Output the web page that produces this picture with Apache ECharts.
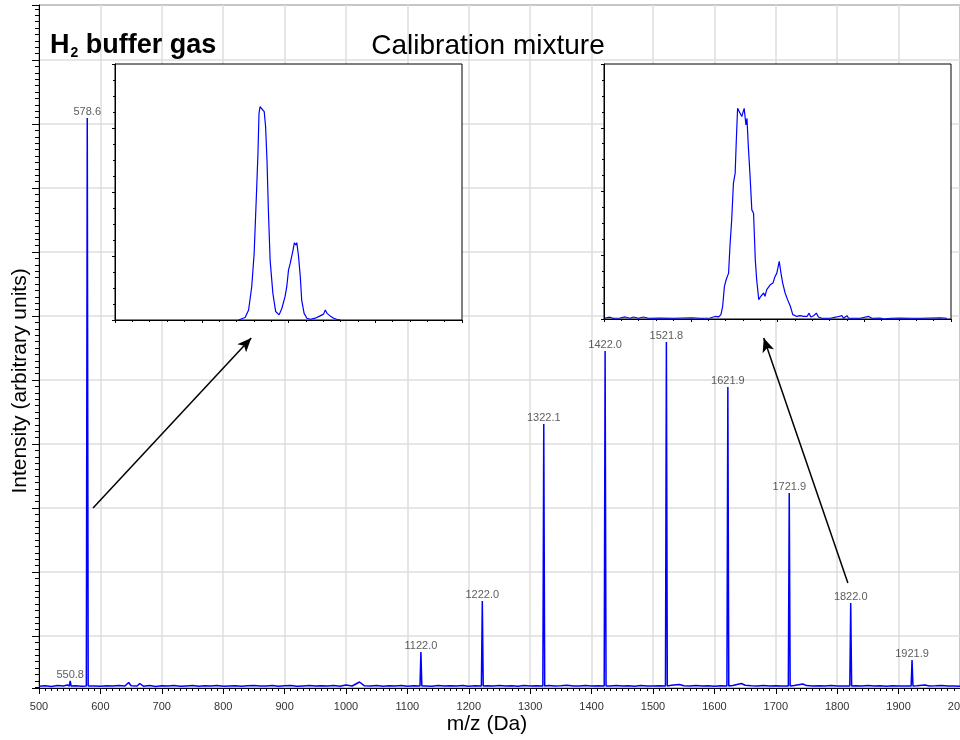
<!DOCTYPE html>
<html><head><meta charset="utf-8">
<script src="https://cdn.jsdelivr.net/npm/echarts@6/dist/echarts.min.js"></script>
<style>html,body{margin:0;padding:0;background:#fff}#c{width:960px;height:740px}</style>
</head><body><div id="c"></div>
<script>
// ---- data (m/z in Da, intensity in arbitrary units) ----
const peakMz = [550.8, 578.6, 1122.0, 1222.0, 1322.1, 1422.0, 1521.8, 1621.9, 1721.9, 1822.0, 1921.9];
const peakHeight = [70, 5700, 360, 870, 2640, 3370, 3460, 3010, 1950, 850, 280];
const noise = [[500,18],[510,22],[520,15],[530,24],[540,20],[546,30],[560,22],[570,18],[590,21],[600,17],[610,23],[620,19],[630,25],[640,20],[646,55],[650,22],[660,20],[664,45],[670,18],[680,24],[690,16],[700,22],[710,19],[720,25],[730,17],[740,21],[750,24],[760,18],[770,22],[780,20],[790,26],[800,17],[810,21],[820,23],[830,18],[840,22],[850,25],[860,19],[870,21],[880,24],[890,17],[900,22],[910,26],[920,18],[930,21],[940,24],[950,19],[960,23],[970,20],[980,25],[990,18],[1000,30],[1010,20],[1022,60],[1030,22],[1040,19],[1050,24],[1060,18],[1070,22],[1080,20],[1090,25],[1100,17],[1110,23],[1130,21],[1140,18],[1150,24],[1160,20],[1170,22],[1180,19],[1190,25],[1200,18],[1210,22],[1230,23],[1240,19],[1250,25],[1260,20],[1270,22],[1280,18],[1290,24],[1300,19],[1310,22],[1330,25],[1340,20],[1350,23],[1360,28],[1370,21],[1380,19],[1390,24],[1400,20],[1410,22],[1430,21],[1440,26],[1450,20],[1460,23],[1470,18],[1480,24],[1490,21],[1500,19],[1510,22],[1530,28],[1543,35],[1550,22],[1560,19],[1570,24],[1580,20],[1590,23],[1600,18],[1610,22],[1630,24],[1644,45],[1650,28],[1660,22],[1670,19],[1680,24],[1690,20],[1700,23],[1710,19],[1730,26],[1744,40],[1750,24],[1760,20],[1770,22],[1780,19],[1790,24],[1800,21],[1810,20],[1830,23],[1840,19],[1850,24],[1860,20],[1870,22],[1880,18],[1890,23],[1900,20],[1910,21],[1930,22],[1943,30],[1950,20],[1960,22],[1970,25],[1980,19],[1990,21],[2000,18]];
const peakBase = 20;
const peakHalfWidth = 1.5;
// inset profiles (relative drift-time axis 0-100, relative intensity 0-100)
const insetLeft = [[35.6,0],[36.1,0.3],[37.5,1.0],[38.5,3.9],[39.4,13.0],[40.1,26.0],[40.7,46.9],[41.2,65.1],[41.5,80.7],[41.8,83.3],[42.3,82.7],[43.0,81.4],[43.4,75.5],[43.8,62.5],[44.2,43.0],[44.7,23.4],[45.5,10.4],[46.3,3.3],[47.3,2.0],[48.1,4.6],[49.0,9.1],[49.5,13.0],[50.0,19.5],[50.5,22.1],[51.3,27.3],[51.7,30.2],[52.1,29.3],[52.4,30.2],[52.9,24.7],[53.4,16.9],[53.8,7.8],[54.5,2.6],[55.3,0.7],[56.3,0.3],[57.7,0.7],[59.1,1.6],[60.1,2.3],[60.6,3.9],[61.1,2.6],[62.0,1.6],[63.0,0.7],[63.9,0.3],[64.9,0]];
const insetRight = [[0.3,0.4],[1.7,0.7],[2.7,0.3],[4.6,0.4],[6.1,0.8],[7.5,0.3],[8.5,0.8],[9.9,0.3],[11.3,0.8],[12.8,0.3],[16.2,0.4],[20.0,0.3],[25.3,0.5],[27.7,0.3],[30.6,0.4],[32.0,1.0],[33.0,0.8],[33.7,1.7],[34.2,5.0],[34.7,12.8],[35.2,15.4],[35.9,18.0],[36.3,28.5],[36.8,38.9],[37.3,53.3],[37.8,57.2],[38.1,68.9],[38.5,82.6],[39.0,81.3],[39.7,79.4],[40.4,82.6],[40.9,76.1],[41.2,78.7],[41.6,67.6],[42.1,55.9],[42.6,42.8],[43.1,41.5],[43.6,23.2],[44.0,15.4],[44.6,7.6],[45.2,8.9],[46.0,10.2],[46.4,8.9],[46.9,11.5],[47.9,13.4],[48.7,14.1],[49.3,16.7],[49.8,18.0],[50.5,22.6],[51.0,18.0],[51.5,14.1],[52.2,10.2],[52.9,7.6],[53.7,5.0],[54.4,1.7],[55.6,1.0],[56.5,1.3],[57.5,1.0],[58.5,1.0],[59.1,2.3],[59.6,0.8],[60.4,1.3],[61.2,2.3],[61.8,0.8],[62.8,0.3],[65.2,0.3],[67.1,0.8],[68.6,1.3],[69.0,0.3],[70.0,1.3],[70.5,0.3],[73.8,0.3],[76.3,1.0],[77.2,0.3],[79.6,0.4],[80.6,0],[82.5,0.3],[85.4,0.4],[88.3,0.3],[91.2,0.3],[94.0,0.4],[96.9,0.5],[98.8,0.3]];
// arrows from peaks to insets: [start(m/z, intensity), end(m/z, intensity)]
const arrows = [[[588.0,1800],[845.7,3500]],[[1817.4,1050],[1680.4,3500]]];

// ---- build ----
const spectrum = noise.slice();
peakMz.forEach((m,i)=>{
  spectrum.push([m-peakHalfWidth, peakBase],[m, peakHeight[i]],[m+peakHalfWidth, peakBase]);
});
spectrum.sort((a,b)=>a[0]-b[0]);
const peakPts = peakMz.map((m,i)=>[m, peakHeight[i]]);

const FF = '"Liberation Sans", Arial, sans-serif';
const BLUE = '#0000ff';
const GRIDC = '#dedede';
const blk = {color:'#000', width:1};

const chart = echarts.init(document.getElementById('c'), null, {renderer:'canvas'});
const insetX = (gi)=>({gridIndex:gi, type:'value', min:0, max:100, interval:25, z:6,
  axisLine:{show:true, lineStyle:blk}, axisTick:{show:true, length:3, lineStyle:blk},
  minorTick:{show:true, splitNumber:5, length:2, lineStyle:blk},
  axisLabel:{show:false}, splitLine:{show:false}});
const insetY = (gi)=>({gridIndex:gi, type:'value', min:0, max:100, interval:25, z:6,
  axisLine:{show:true, lineStyle:blk}, axisTick:{show:true, length:3, lineStyle:blk},
  minorTick:{show:true, splitNumber:4, length:2, lineStyle:blk},
  axisLabel:{show:false}, splitLine:{show:false}});

chart.setOption({
  animation:false,
  backgroundColor:'#fff',
  grid:[
    {left:39, right:0, top:5, bottom:52, show:true, borderColor:'#000', borderWidth:1, backgroundColor:'transparent', containLabel:false, outerBoundsMode:'none'},
    {left:115, top:64, width:347, height:256, show:true, borderColor:'#000', borderWidth:1, backgroundColor:'#fff', z:5, containLabel:false, outerBoundsMode:'none'},
    {left:604, top:64, width:347, height:255, show:true, borderColor:'#000', borderWidth:1, backgroundColor:'#fff', z:5, containLabel:false, outerBoundsMode:'none'}
  ],
  xAxis:[
    {gridIndex:0, type:'value', min:500, max:2000, interval:100,
     axisLine:{show:true, lineStyle:blk}, axisTick:{show:true, length:6, lineStyle:blk},
     minorTick:{show:true, splitNumber:10, length:3, lineStyle:blk},
     axisLabel:{show:true, fontSize:11, color:'#333', margin:13, fontFamily:FF, formatter:(v)=>String(v), hideOverlap:false, showMinLabel:true, showMaxLabel:true},
     splitLine:{show:true, lineStyle:{color:GRIDC, width:1.5}}},
    insetX(1), insetX(2)
  ],
  yAxis:[
    {gridIndex:0, type:'value', min:0, max:6830,
     axisLine:{show:true, lineStyle:blk}, axisTick:{show:false}, axisLabel:{show:false}, splitLine:{show:false}},
    {gridIndex:0, type:'value', position:'left', min:-520, max:6310, minInterval:640, maxInterval:640, splitNumber:10,
     axisLine:{show:false}, axisTick:{show:true, length:7, lineStyle:blk},
     minorTick:{show:true, splitNumber:10, length:4, lineStyle:blk},
     axisLabel:{show:false}, splitLine:{show:true, lineStyle:{color:GRIDC, width:1.5}}},
    insetY(1), insetY(2)
  ],
  series:[
    {type:'line', xAxisIndex:0, yAxisIndex:0, data:spectrum, showSymbol:false, symbol:'none',
     lineStyle:{color:BLUE, width:1.5}, itemStyle:{color:BLUE}, z:3, silent:true},
    {type:'scatter', xAxisIndex:0, yAxisIndex:0, data:peakPts, symbolSize:0, z:4, silent:true,
     label:{show:true, position:'top', distance:1, fontSize:11, color:'#333', fontFamily:FF,
       formatter:(p)=>p.value[0].toFixed(1)},
     markLine:{silent:true, symbol:['none','arrow'], symbolSize:[9,14], label:{show:false},
       lineStyle:{color:'#000', width:1.5, type:'solid'},
       data:arrows.map(a=>[{coord:a[0]},{coord:a[1]}])}},
    {type:'line', xAxisIndex:1, yAxisIndex:2, data:insetLeft, showSymbol:false, symbol:'none',
     lineStyle:{color:BLUE, width:1.2}, z:7, silent:true},
    {type:'line', xAxisIndex:2, yAxisIndex:3, data:insetRight, showSymbol:false, symbol:'none',
     lineStyle:{color:BLUE, width:1.2}, z:7, silent:true}
  ],
  graphic:[
    {type:'text', x:50, y:46, z:10, style:{text:'{b|H}{s|2}{b| buffer gas}', verticalAlign:'middle', align:'left',
      fill:'#000', font:'bold 27px '+FF,
      rich:{b:{fontSize:27, fontWeight:'bold', fontFamily:FF, fill:'#000'},
            s:{fontSize:14, fontWeight:'bold', fontFamily:FF, fill:'#000', padding:[14,0,0,1]}}}},
    {type:'text', x:488, y:46, z:10, style:{text:'Calibration mixture', align:'center', verticalAlign:'middle',
      fill:'#000', fontSize:28, fontFamily:FF}},
    {type:'text', x:20, y:381, rotation:Math.PI/2, z:10, style:{text:'Intensity (arbitrary units)', align:'center', verticalAlign:'middle',
      fill:'#000', fontSize:21, fontFamily:FF}},
    {type:'text', x:487, y:724, z:10, style:{text:'m/z (Da)', align:'center', verticalAlign:'middle',
      fill:'#000', fontSize:21, fontFamily:FF}}
  ]
});
</script></body></html>
